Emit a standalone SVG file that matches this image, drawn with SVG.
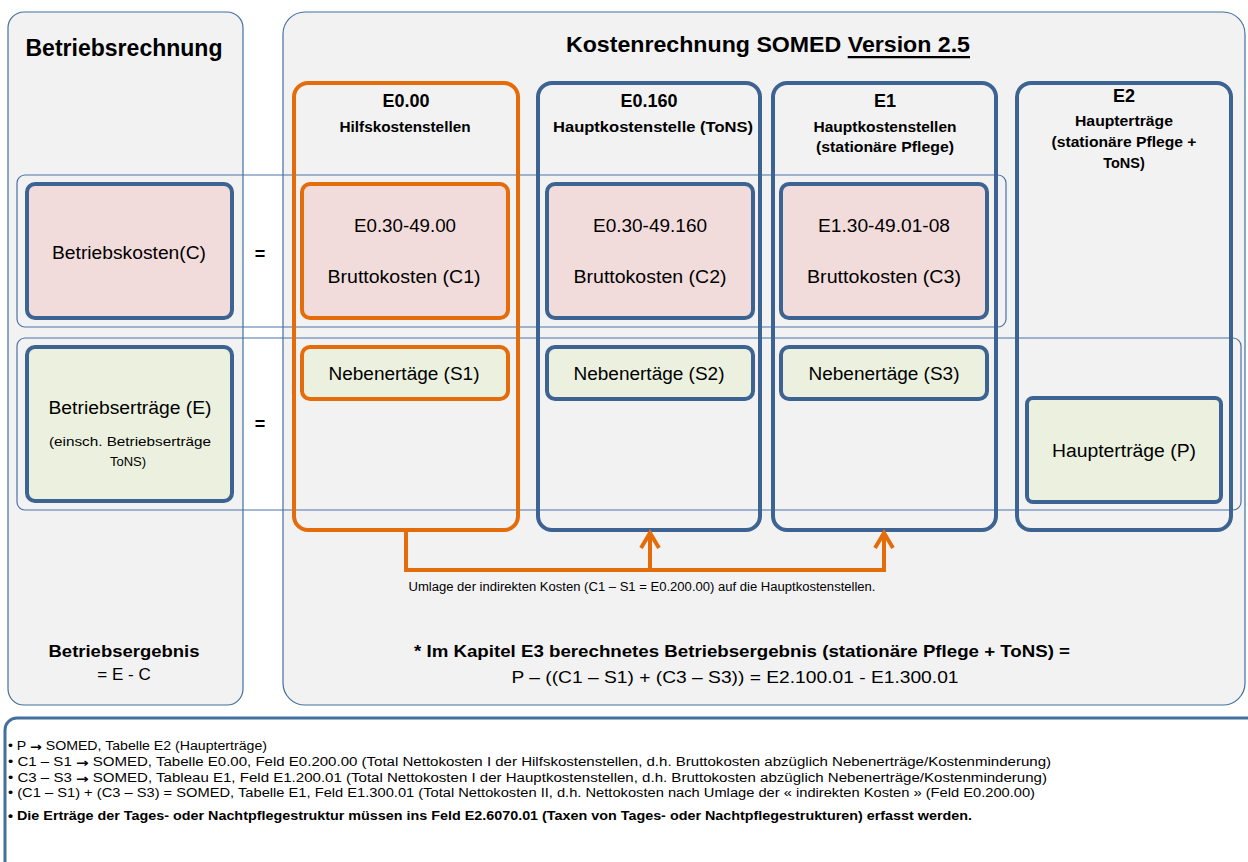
<svg xmlns="http://www.w3.org/2000/svg" width="1248" height="862" viewBox="0 0 1248 862">
<style>
text{font-family:"Liberation Sans",Arial,sans-serif;fill:#000;dominant-baseline:central;text-anchor:middle}
.b{font-weight:bold}
.panel{fill:#f2f2f2;stroke:#41719c;stroke-width:1.2}
.row{fill:none;stroke:#4a72a8;stroke-width:1.2}
.colB{fill:none;stroke:#3d6392;stroke-width:4}
.colO{fill:none;stroke:#e46c0a;stroke-width:4}
.pink{fill:#f2dcdb}
.green{fill:#ebf1de}
.bl{stroke:#3d6392;stroke-width:4}
.or{stroke:#e46c0a;stroke-width:4}
.t18{font-size:18px}
.t17{font-size:17px}
.h{font-size:14.5px;font-weight:bold}
.note{font-size:12.5px;text-anchor:start}
.arr{font-family:"DejaVu Sans",sans-serif;font-weight:bold}
.conn{fill:none;stroke:#e46c0a;stroke-width:4;stroke-linejoin:miter}
</style>

<g id="panel-betriebsrechnung">
<rect class="panel" x="8" y="12" width="235" height="693" rx="16"/>
<text class="b" x="124" y="48" font-size="23" textLength="197" lengthAdjust="spacingAndGlyphs">Betriebsrechnung</text>
<text class="b t17" x="124" y="651" textLength="151" lengthAdjust="spacingAndGlyphs">Betriebsergebnis</text>
<text class="t17" x="124" y="674">= E - C</text>
</g>

<g id="panel-kostenrechnung">
<rect class="panel" x="283" y="12" width="962" height="693" rx="22"/>
<text class="b" x="768" y="44" font-size="22.5" textLength="404" lengthAdjust="spacingAndGlyphs">Kostenrechnung SOMED <tspan text-decoration="underline">Version 2.5</tspan></text>
<text class="b t17" x="742" y="651" textLength="656" lengthAdjust="spacingAndGlyphs">* Im Kapitel E3 berechnetes Betriebsergebnis (stationäre Pflege + ToNS) =</text>
<text class="t17" x="735" y="677" textLength="447" lengthAdjust="spacingAndGlyphs">P – ((C1 – S1) + (C3 – S3)) = E2.100.01 - E1.300.01</text>
</g>

<g id="row-kosten">
<rect class="row" x="17" y="175" width="989" height="152" rx="8"/>
</g>
<g id="row-ertraege">
<rect class="row" x="17" y="338" width="1224" height="172" rx="8"/>
</g>

<g id="col-E0-00">
<rect class="colO" x="294" y="83" width="224" height="447" rx="14"/>
<text class="b t18" x="406" y="101">E0.00</text>
<text class="h" x="405" y="127" textLength="131" lengthAdjust="spacingAndGlyphs">Hilfskostenstellen</text>
</g>
<g id="col-E0-160">
<rect class="colB" x="538" y="83" width="222" height="447" rx="14"/>
<text class="b t18" x="649" y="101">E0.160</text>
<text class="h" x="653" y="127" textLength="200" lengthAdjust="spacingAndGlyphs">Hauptkostenstelle (ToNS)</text>
</g>
<g id="col-E1">
<rect class="colB" x="773" y="83" width="223" height="447" rx="14"/>
<text class="b t18" x="885" y="101">E1</text>
<text class="h" x="885" y="127" textLength="143" lengthAdjust="spacingAndGlyphs">Hauptkostenstellen</text>
<text class="h" x="885" y="147" textLength="138" lengthAdjust="spacingAndGlyphs">(stationäre Pflege)</text>
</g>
<g id="col-E2">
<rect class="colB" x="1017" y="83" width="214" height="447" rx="14"/>
<text class="b t18" x="1124" y="96">E2</text>
<text class="h" x="1124" y="121" textLength="98" lengthAdjust="spacingAndGlyphs">Haupterträge</text>
<text class="h" x="1124" y="142" textLength="145" lengthAdjust="spacingAndGlyphs">(stationäre Pflege +</text>
<text class="h" x="1124" y="163">ToNS)</text>
</g>

<g id="betriebskosten">
<rect class="pink bl" x="27" y="184" width="205" height="134" rx="8"/>
<text class="t18" x="129" y="253" textLength="154" lengthAdjust="spacingAndGlyphs">Betriebskosten(C)</text>
</g>
<g id="eq1"><text class="t18 b" x="260" y="254">=</text></g>
<g id="betriebsertraege">
<rect class="green bl" x="27" y="347" width="205" height="154" rx="8"/>
<text class="t18" x="130" y="408" textLength="163" lengthAdjust="spacingAndGlyphs">Betriebserträge (E)</text>
<text x="130" y="441" font-size="13" textLength="162" lengthAdjust="spacingAndGlyphs">(einsch. Betriebserträge</text>
<text x="128" y="461" font-size="13">ToNS)</text>
</g>
<g id="eq2"><text class="t18 b" x="260" y="424">=</text></g>

<g id="C1">
<rect class="pink or" x="302" y="184" width="206" height="134" rx="8"/>
<text class="t18" x="405" y="226" textLength="102" lengthAdjust="spacingAndGlyphs">E0.30-49.00</text>
<text class="t18" x="404" y="277" textLength="153" lengthAdjust="spacingAndGlyphs">Bruttokosten  (C1)</text>
</g>
<g id="S1">
<rect class="green or" x="302" y="347" width="206" height="52" rx="8"/>
<text class="t18" x="404" y="374" textLength="151" lengthAdjust="spacingAndGlyphs">Nebenertäge (S1)</text>
</g>
<g id="C2">
<rect class="pink bl" x="547" y="184" width="206" height="134" rx="8"/>
<text class="t18" x="650" y="226" textLength="114" lengthAdjust="spacingAndGlyphs">E0.30-49.160</text>
<text class="t18" x="650" y="277" textLength="153" lengthAdjust="spacingAndGlyphs">Bruttokosten  (C2)</text>
</g>
<g id="S2">
<rect class="green bl" x="547" y="347" width="206" height="52" rx="8"/>
<text class="t18" x="649" y="374" textLength="151" lengthAdjust="spacingAndGlyphs">Nebenertäge (S2)</text>
</g>
<g id="C3">
<rect class="pink bl" x="781" y="184" width="206" height="134" rx="8"/>
<text class="t18" x="884" y="226" textLength="132" lengthAdjust="spacingAndGlyphs">E1.30-49.01-08</text>
<text class="t18" x="884" y="277" textLength="154" lengthAdjust="spacingAndGlyphs">Bruttokosten  (C3)</text>
</g>
<g id="S3">
<rect class="green bl" x="781" y="347" width="206" height="52" rx="8"/>
<text class="t18" x="884" y="374" textLength="151" lengthAdjust="spacingAndGlyphs">Nebenertäge (S3)</text>
</g>
<g id="P">
<rect class="green bl" x="1027" y="398" width="194" height="104" rx="6"/>
<text class="t18" x="1124" y="451" textLength="144" lengthAdjust="spacingAndGlyphs">Haupterträge (P)</text>
</g>

<g id="connectors">
<path class="conn" d="M406,530 V570 H884 V533"/>
<path class="conn" d="M650,570 V533"/>
<path class="conn" d="M641,548 L650,533 L659,548"/>
<path class="conn" d="M875,548 L884,533 L893,548"/>
<text x="642" y="587" font-size="12" textLength="467" lengthAdjust="spacingAndGlyphs">Umlage der indirekten Kosten (C1 – S1 = E0.200.00) auf die Hauptkostenstellen.</text>
</g>

<g id="notes">
<rect x="5" y="718" width="1262" height="170" rx="12" fill="#ffffff" stroke="#41719c" stroke-width="3"/>
<text class="note" x="8" y="746" textLength="259" lengthAdjust="spacingAndGlyphs">• P <tspan class="arr">→</tspan> SOMED, Tabelle E2 (Haupterträge)</text>
<text class="note" x="8" y="762" textLength="1043" lengthAdjust="spacingAndGlyphs">• C1 – S1 <tspan class="arr">→</tspan> SOMED, Tabelle E0.00, Feld E0.200.00 (Total Nettokosten I der Hilfskostenstellen, d.h. Bruttokosten abzüglich Nebenerträge/Kostenminderung)</text>
<text class="note" x="8" y="778" textLength="1039" lengthAdjust="spacingAndGlyphs">• C3 – S3 <tspan class="arr">→</tspan> SOMED, Tableau E1, Feld E1.200.01 (Total Nettokosten I der Hauptkostenstellen, d.h. Bruttokosten abzüglich Nebenerträge/Kostenminderung)</text>
<text class="note" x="8" y="793" textLength="1027" lengthAdjust="spacingAndGlyphs">• (C1 – S1) + (C3 – S3) = SOMED, Tabelle E1, Feld E1.300.01 (Total Nettokosten II, d.h. Nettokosten nach Umlage der « indirekten Kosten » (Feld E0.200.00)</text>
<text class="note b" x="8" y="816" textLength="964" lengthAdjust="spacingAndGlyphs">• Die Erträge der Tages- oder Nachtpflegestruktur  müssen ins Feld E2.6070.01 (Taxen von Tages- oder Nachtpflegestrukturen)  erfasst werden.</text>
</g>
</svg>
